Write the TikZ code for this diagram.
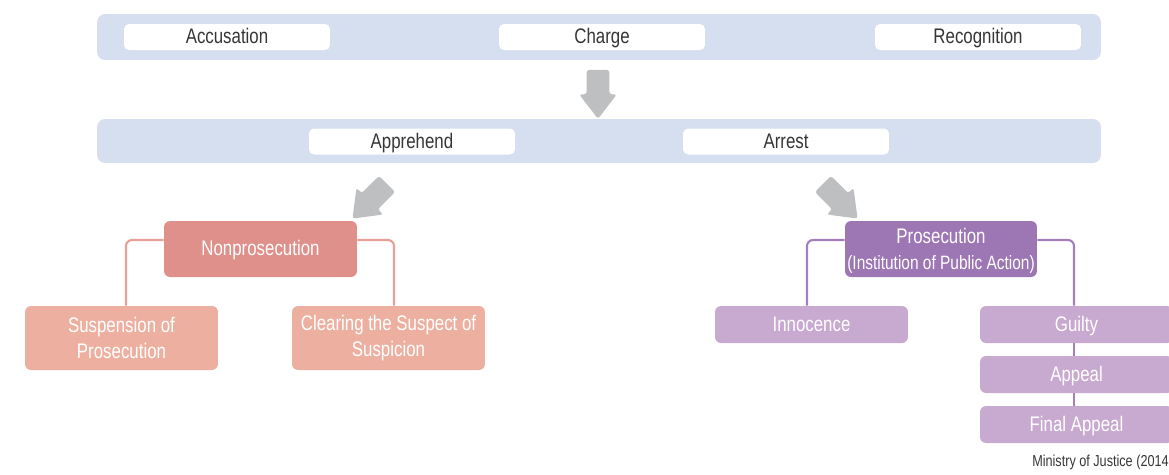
\documentclass[tikz,border=0pt]{standalone}
\usepackage{fontspec}
\setmainfont[FakeStretch=0.8]{Liberation Sans}
\usepackage{tikz}
\usetikzlibrary{shapes.arrows}

\definecolor{barblue}{HTML}{D5DFF0}
\definecolor{arrgray}{HTML}{BEBFC1}
\definecolor{txtgray}{HTML}{363636}
\definecolor{npdark}{HTML}{E0908A}
\definecolor{nplight}{HTML}{EDB0A0}
\definecolor{npline}{HTML}{E8A096}
\definecolor{prdark}{HTML}{9D76B4}
\definecolor{prlight}{HTML}{C8A9D0}
\definecolor{prline}{HTML}{A47FBB}

\begin{document}
\begin{tikzpicture}[x=0.02cm,y=-0.02cm,
   bar/.style={fill=barblue,rounded corners=0.16cm,minimum width=20.08cm,inner sep=0pt},
   act/.style={fill=white,rounded corners=0.1cm,minimum width=4.12cm,minimum height=0.52cm,inner sep=0pt,
      text=txtgray,font=\large,text height=1.9ex,text depth=0.4ex},
   bigarrow/.style={single arrow,fill=arrgray,inner sep=0pt,inner ysep=0.22cm,minimum height=0.92cm,
      single arrow head extend=0.15cm,single arrow tip angle=75,rounded corners=1.5pt},
   outcome/.style={rounded corners=0.12cm,minimum width=3.86cm,inner sep=0pt,text=white,font=\large,align=center},
   oneline/.style={text height=1.9ex,text depth=0.4ex},
   link/.style={line width=1.2pt,rounded corners=0.12cm}]
  \useasboundingbox (0,0) rectangle (1169,474);

   \draw (599,37) node[bar,minimum height=0.92cm] (top) {};
  \draw (227,37) node[act] (accusation) {Accusation};
  \draw (602,37) node[act] (charge) {Charge};
  \draw (978,37) node[act] (recognition) {Recognition};

  \draw (598,87) node[bigarrow,rotate=-90,minimum height=0.98cm] (down) {};

   \draw (599,141) node[bar,minimum height=0.88cm] (mid) {};
  \draw (412,141.5) node[act] (apprehend) {Apprehend};
  \draw (786,141.5) node[act] (arrest) {Arrest};

  \draw (375,196) node[bigarrow,rotate=-135,minimum height=0.98cm] (toleft) {};
  \draw (835,196) node[bigarrow,rotate=-45,minimum height=0.98cm] (toright) {};

	\draw (260.5,249) node[outcome,oneline,fill=npdark,minimum height=1.12cm] (nonpros) {Nonprosecution};
	\draw (121.5,338) node[outcome,fill=nplight,minimum height=1.28cm] (suspension) {Suspension of\\[1pt]Prosecution};
	\draw (388.5,338) node[outcome,fill=nplight,minimum height=1.28cm] (clearing) {Clearing the Suspect of\\[1pt]Suspicion};

	\draw (941,249) node[outcome,fill=prdark,minimum width=3.84cm,minimum height=1.12cm,text depth=0pt] (pros) {Prosecution\\[1pt]{\fontsize{11}{13}\selectfont(Institution of Public Action)}};
	\draw (811.5,324.5) node[outcome,oneline,fill=prlight,minimum height=0.74cm] (innocence) {Innocence};
	      \draw (1076.5,324.5) node[outcome,oneline,fill=prlight,minimum height=0.74cm] (guilty) {Guilty};
	      \draw (1076.5,374.5) node[outcome,oneline,fill=prlight,minimum height=0.74cm] (appeal) {Appeal};
	      \draw (1076.5,424.5) node[outcome,oneline,fill=prlight,minimum height=0.74cm] (final) {Final Appeal};

    \draw[link,npline] ([yshift=0.18cm]nonpros.west) -| ([xshift=0.09cm]suspension.north);
    \draw[link,npline] ([yshift=0.18cm]nonpros.east) -| ([xshift=0.11cm]clearing.north);
    \draw[link,prline] ([yshift=0.18cm]pros.west) -| ([xshift=-0.09cm]innocence.north);
    \draw[link,prline] ([yshift=0.18cm]pros.east) -| ([xshift=-0.05cm]guilty.north);
    \draw[link,prline] ([xshift=-0.05cm]guilty.south) -- ([xshift=-0.05cm]appeal.north);
    \draw[link,prline] ([xshift=-0.05cm]appeal.south) -- ([xshift=-0.05cm]final.north);

  \draw (1169,462) node[anchor=east,inner sep=0pt,text=txtgray,font=\small] (source) {Ministry of Justice (2014};
\end{tikzpicture}
\end{document}
